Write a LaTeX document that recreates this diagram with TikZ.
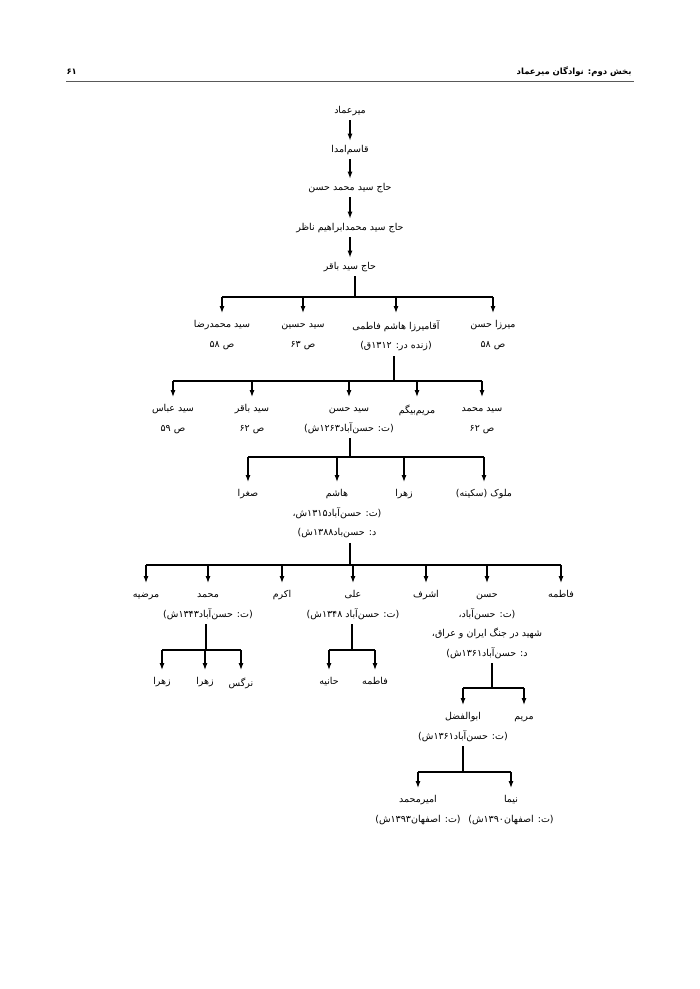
\documentclass[tikz,border=0pt]{standalone}
\usepackage{fontspec}
\newfontfamily\farsi[Script=Arabic]{DejaVu Sans}
\TeXXeTstate=1
\usetikzlibrary{arrows.meta}
\newcommand\rl[1]{\vrule width0pt height7pt depth2.5pt\beginR#1\endR}

\begin{document}
\begin{tikzpicture}[x=1pt,y=-1pt,line width=1.1pt,
    person/.style={font=\farsi\fontsize{9.5}{19.5}\selectfont,inner xsep=1pt,inner ysep=4pt,align=center,anchor=north},
    chain/.style={person,anchor=center},
    arr/.style={-{Latex[length=7pt,width=5pt]},shorten >=3pt}]

    \useasboundingbox (0,0) rectangle (700,989);

    % page head
    \node[font=\farsi\bfseries\fontsize{8.5}{10}\selectfont,anchor=base east,inner sep=0pt] (head) at (632,74) {\rl{بخش دوم: نوادگان میرعماد}};
    \node[font=\farsi\bfseries\fontsize{8.5}{10}\selectfont,anchor=base west,inner sep=0pt] (pagenum) at (66,74) {\rl{۶۱}};
    \draw[black!65,line width=1pt] (66,81) -- (634,81);

    % line of descent
    \node[chain] (mir) at (350,111) {\rl{میرعماد}};
    \node[chain] (qasem) at (350,150) {\rl{قاسم^^^^200cامدا}};
    \node[chain] (hajhasan) at (350,188) {\rl{حاج سید محمد حسن}};
    \node[chain] (ebrahim) at (350,228) {\rl{حاج سید محمدابراهیم ناظر}};
    \node[chain] (hajbaqer) at (350,267) {\rl{حاج سید باقر}};
    \foreach \a/\b in {mir/qasem,qasem/hajhasan,hajhasan/ebrahim,ebrahim/hajbaqer}
      \draw[arr,shorten >=0pt] (\a) -- (\b);

    % children of haj seyyed baqer
    \node[person] (mreza) at (222,316) {\rl{سید محمدرضا}\\\rl{ص ۵۸}};
    \node[person] (hosein) at (303,316) {\rl{سید حسین}\\\rl{ص ۶۳}};
    \node[person] (hashemA) at (396,316) {\rl{آقامیرزا هاشم فاطمی}\\\rl{(زنده در: ۱۳۱۲ق)}};
    \node[person] (mhasan) at (493,316) {\rl{میرزا حسن}\\\rl{ص ۵۸}};

    % children of aqamirza hashem
    \node[person] (abbas) at (173,400) {\rl{سید عباس}\\\rl{ص ۵۹}};
    \node[person] (sbaqer) at (252,400) {\rl{سید باقر}\\\rl{ص ۶۲}};
    \node[person] (shasan) at (349,400) {\rl{سید حسن}\\\rl{(ت: حسن^^^^200cآباد۱۲۶۳ش)}};
    \node[person] (mbeygom) at (417,400) {\rl{مریم^^^^200cبیگم}};
    \node[person] (smohammad) at (482,400) {\rl{سید محمد}\\\rl{ص ۶۲}};

    % children of seyyed hasan
    \node[person] (soghra) at (248,485) {\rl{صغرا}};
    \node[person] (hashemB) at (337,485) {\rl{هاشم}\\\rl{(ت: حسن^^^^200cآباد۱۳۱۵ش،}\\\rl{د: حسن^^^^200cباد۱۳۸۸ش)}};
    \node[person] (zahraA) at (404,485) {\rl{زهرا}};
    \node[person] (molouk) at (484,485) {\rl{ملوک (سکینه)}};

    % children of hashem
    \node[person] (marziyeh) at (146,586) {\rl{مرضیه}};
    \node[person] (mohammad) at (208,586) {\rl{محمد}\\\rl{(ت: حسن^^^^200cآباد۱۳۴۳ش)}};
    \node[person] (akram) at (282,586) {\rl{اکرم}};
    \node[person] (ali) at (353,586) {\rl{علی}\\\rl{(ت: حسن^^^^200cآباد ۱۳۴۸ش)}};
    \node[person] (ashraf) at (426,586) {\rl{اشرف}};
    \node[person] (hasan) at (487,586) {\rl{حسن}\\\rl{(ت: حسن^^^^200cآباد،}\\\rl{شهید در جنگ ایران و عراق،}\\\rl{د: حسن^^^^200cآباد۱۳۶۱ش)}};
    \node[person] (fatemehA) at (561,586) {\rl{فاطمه}};

    % grandchildren
    \node[person] (zahraB) at (162,673) {\rl{زهرا}};
    \node[person] (zahraC) at (205,673) {\rl{زهرا}};
    \node[person] (narges) at (241,673) {\rl{نرگس}};
    \node[person] (haniyeh) at (329,673) {\rl{حانیه}};
    \node[person] (fatemehB) at (375,673) {\rl{فاطمه}};
    \node[person] (abolfazl) at (463,708) {\rl{ابوالفضل}\\\rl{(ت: حسن^^^^200cآباد۱۳۶۱ش)}};
    \node[person] (maryam) at (524,708) {\rl{مریم}};
    \node[person] (amirm) at (418,791) {\rl{امیرمحمد}\\\rl{(ت: اصفهان۱۳۹۳ش)}};
    \node[person] (nima) at (511,791) {\rl{نیما}\\\rl{(ت: اصفهان۱۳۹۰ش)}};

    % bus points
    \coordinate (j1) at (355,297);
    \coordinate (j2) at (394,381);
    \coordinate (j3) at (350,457);
    \coordinate (j4) at (350,565);
    \coordinate (j5) at (206,650);
    \coordinate (j6) at (352,650);
    \coordinate (j7) at (492,688);
    \coordinate (j8) at (463,772);

    \draw (hajbaqer.south -| j1) -- (j1);
    \draw (j1 -| mreza) -- (j1 -| mhasan);
    \foreach \c in {mreza,hosein,hashemA,mhasan} \draw[arr] (j1 -| \c) -- (\c.north);

    \draw (hashemA.south -| j2) -- (j2);
    \draw (j2 -| abbas) -- (j2 -| smohammad);
    \foreach \c in {abbas,sbaqer,shasan,mbeygom,smohammad} \draw[arr] (j2 -| \c) -- (\c.north);

    \draw (shasan.south -| j3) -- (j3);
    \draw (j3 -| soghra) -- (j3 -| molouk);
    \foreach \c in {soghra,hashemB,zahraA,molouk} \draw[arr] (j3 -| \c) -- (\c.north);

    \draw (hashemB.south -| j4) -- (j4);
    \draw (j4 -| marziyeh) -- (j4 -| fatemehA);
    \foreach \c in {marziyeh,mohammad,akram,ali,ashraf,hasan,fatemehA} \draw[arr] (j4 -| \c) -- (\c.north);

    \draw (mohammad.south -| j5) -- (j5);
    \draw (j5 -| zahraB) -- (j5 -| narges);
    \foreach \c in {zahraB,zahraC,narges} \draw[arr] (j5 -| \c) -- (\c.north);

    \draw (ali.south -| j6) -- (j6);
    \draw (j6 -| haniyeh) -- (j6 -| fatemehB);
    \foreach \c in {haniyeh,fatemehB} \draw[arr] (j6 -| \c) -- (\c.north);

    \draw (hasan.south -| j7) -- (j7);
    \draw (j7 -| abolfazl) -- (j7 -| maryam);
    \foreach \c in {abolfazl,maryam} \draw[arr] (j7 -| \c) -- (\c.north);

    \draw (abolfazl.south -| j8) -- (j8);
    \draw (j8 -| amirm) -- (j8 -| nima);
    \foreach \c in {amirm,nima} \draw[arr] (j8 -| \c) -- (\c.north);

\end{tikzpicture}
\end{document}
